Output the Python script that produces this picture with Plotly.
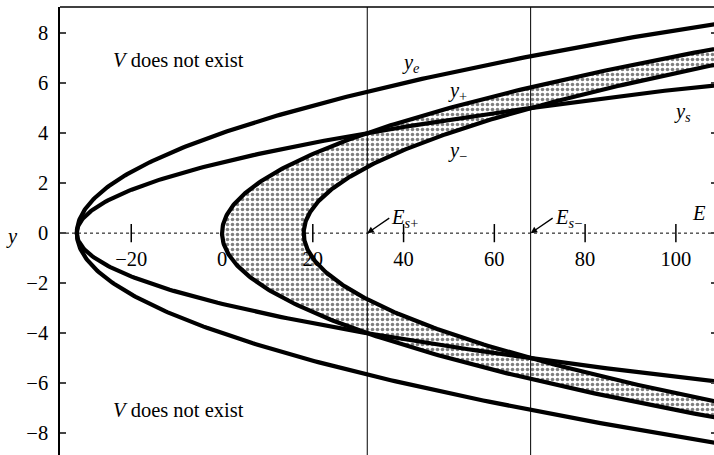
import numpy as np
import plotly.graph_objects as go

# Parabolic boundary curves E = vertex + coef * y^2
curve_names = ["y_e", "y_s", "y_plus", "y_minus"]
curve_vertex = [-32.0, -32.0, 0.0, 18.0]
curve_coef = [2.0, 4.0, 2.0, 2.0]

# Separatrix energies (vertical lines)
separatrix_E = [32.0, 68.0]
separatrix_text = ["<i>E<sub>s</sub></i><sub>+</sub>", "<i>E<sub>s</sub></i><sub>\u2212</sub>"]

x_ticks = [-20, 0, 20, 40, 60, 80, 100]
y_ticks = [-8, -6, -4, -2, 0, 2, 4, 6, 8]

x_range = [-35.7, 108.4]
y_range = [-8.87, 9.04]

FONT = "Liberation Serif"
FS = 20.5

y_grid = np.linspace(-9.5, 9.5, 400)


def branch(i):
    return curve_vertex[i] + curve_coef[i] * y_grid ** 2


fig = go.Figure()

# Stippled band between y+ (outer) and y- (inner)
band_E = np.concatenate([branch(2), branch(3)[::-1]])
band_y = np.concatenate([y_grid, y_grid[::-1]])
fig.add_trace(go.Scatter(
    x=band_E, y=band_y, mode="lines", fill="toself",
    line=dict(width=0, color="black"),
    fillcolor="white",
    fillpattern=dict(shape=".", fgcolor="black", bgcolor="white", size=5, solidity=0.4),
    hoverinfo="skip", showlegend=False,
))

for i, name in enumerate(curve_names):
    fig.add_trace(go.Scatter(
        x=branch(i), y=y_grid, mode="lines", name=name,
        line=dict(color="black", width=4.2), showlegend=False,
    ))

# Tick marks crossing the horizontal axis
fig.add_trace(go.Scatter(
    x=x_ticks, y=[0] * len(x_ticks), mode="markers",
    marker=dict(symbol="line-ns", size=13, line=dict(color="black", width=1.5)),
    hoverinfo="skip", showlegend=False,
))

# invisible trace so the right-hand tick axis renders
fig.add_trace(go.Scatter(x=[x_ticks[0]], y=[0], yaxis="y2", mode="markers",
                         marker=dict(opacity=0), showlegend=False, hoverinfo="skip"))

shapes = [
    dict(type="line", xref="paper", yref="y", x0=0, x1=1, y0=0, y1=0,
         line=dict(color="black", width=1, dash="dot"), layer="below"),
    dict(type="line", xref="paper", yref="paper", x0=0, x1=1, y0=1, y1=1,
         line=dict(color="black", width=1.5)),
]
for e in separatrix_E:
    shapes.append(dict(type="line", xref="x", yref="paper", x0=e, x1=e, y0=0, y1=1,
                       line=dict(color="black", width=1)))

annotations = []
for e, t in zip(separatrix_E, separatrix_text):
    annotations.append(dict(x=e, y=0, xref="x", yref="y", text=t, showarrow=True,
                            ax=22, ay=-15, xanchor="left", yanchor="middle",
                            arrowhead=2, arrowsize=1, arrowwidth=1.3, arrowcolor="black",
                            font=dict(family=FONT, size=FS, color="black")))

def label(text, px, py, xanchor="center"):
    annotations.append(dict(x=(px - 60) / 654, y=1 - (py - 7) / 448, xref="paper", yref="paper",
                            text=text, showarrow=False, xanchor=xanchor, yanchor="middle",
                            font=dict(family=FONT, size=FS, color="black")))

label("<i>V</i> does not exist", 111, 60, "left")
label("<i>V</i> does not exist", 111, 410, "left")
label("<i>y<sub>e</sub></i>", 411, 64)
label("<i>y</i><sub>+</sub>", 457, 92)
label("<i>y</i><sub>\u2212</sub>", 457, 151)
label("<i>y<sub>s</sub></i>", 682, 112)
label("<i>E</i>", 699, 213)
label("<i>y</i>", 12, 236)

pos = -y_range[0] / (y_range[1] - y_range[0])

fig.update_layout(
    width=714, height=455,
    margin=dict(l=60, r=0, t=7, b=0),
    paper_bgcolor="white", plot_bgcolor="white",
    font=dict(family=FONT, size=FS, color="black"),
    shapes=shapes, annotations=annotations,
    xaxis=dict(range=x_range, anchor="free", position=pos, tickvals=x_ticks,
               ticktext=[("\u2212" + str(-v)) if v < 0 else str(v) for v in x_ticks],
               ticks="", showline=False, showgrid=False, zeroline=False,
               ticklabelstandoff=11, tickfont=dict(family=FONT, size=FS)),
    yaxis=dict(range=y_range, tickvals=y_ticks, ticks="inside", ticklen=6, tickwidth=1.5,
               showline=True, linewidth=1.5, linecolor="black", showgrid=False,
               zeroline=False, ticklabelstandoff=6, tickfont=dict(family=FONT, size=FS)),
    yaxis2=dict(range=y_range, overlaying="y", side="right", tickvals=y_ticks,
                ticks="inside", ticklen=3, tickwidth=1.5, showline=False,
                showticklabels=False, showgrid=False, zeroline=False),
)

fig.write_html("out.html")
